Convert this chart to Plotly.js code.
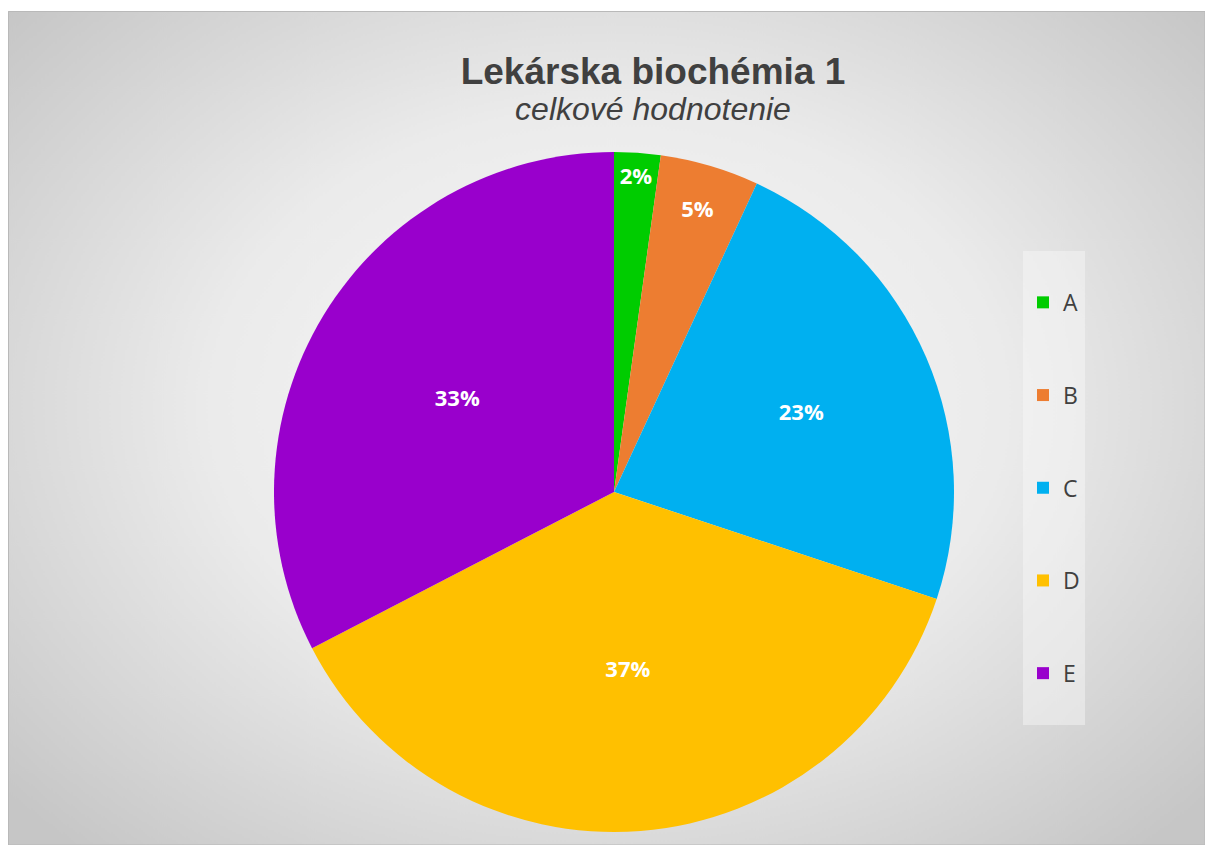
<!DOCTYPE html>
<html>
<head>
<meta charset="utf-8">
<script src="https://cdn.plot.ly/plotly-3.0.1.min.js"></script>
<style>
  html, body { margin: 0; padding: 0; background: #ffffff; }
  #chart { width: 1205px; height: 845px; }
</style>
</head>
<body>
<div id="chart"></div>
<script>
// grades and their share of students
const grades = ['A', 'B', 'C', 'D', 'E'];
const shares = [2.2, 4.7, 23.2, 37.3, 32.6];
const sliceColors = ['#00cc00', '#ed7d31', '#00b0f0', '#ffc000', '#9900cc'];

const W = 1205, H = 845;

// soft grey radial background like the Excel chart style
function makeBackground() {
  const c = document.createElement('canvas');
  c.width = W; c.height = H;
  const g = c.getContext('2d');
  const cx = 605, cy = 400;
  g.save();
  g.translate(cx, cy);
  g.scale(1, 0.75);
  const rad = Math.sqrt(cx * cx + (cy / 0.75) * (cy / 0.75));
  const grad = g.createRadialGradient(0, 0, 0, 0, 0, rad);
  grad.addColorStop(0, '#fafafa');
  grad.addColorStop(0.5, '#ebebeb');
  grad.addColorStop(1, '#c6c6c6');
  g.fillStyle = grad;
  g.fillRect(-cx, -cy / 0.75, W, H / 0.75);
  g.restore();
  return c.toDataURL('image/png');
}

// pad legend labels so entries are spread like the original
const legendLabels = grades.map(function(g) { return ' <br>' + g + '<br> '; });

const trace = {
  type: 'pie',
  labels: legendLabels,
  values: shares,
  sort: false,
  direction: 'clockwise',
  rotation: 0,
  marker: { colors: sliceColors, line: { width: 0 } },
  texttemplate: '%{percent:.0%}',
  textposition: 'inside',
  insidetextorientation: 'horizontal',
  textfont: { family: 'Open Sans', size: 22, color: '#ffffff', weight: 'bold' },
  hovertemplate: '%{percent:.1%}<extra></extra>',
  domain: { x: [274 / W, 954 / W], y: [13 / H, 693 / H] }
};

const layout = {
  width: W,
  height: H,
  margin: { l: 0, r: 0, t: 0, b: 0 },
  paper_bgcolor: '#ffffff',
  uniformtext: { minsize: 22, mode: 'show' },
  title: {
    text: '<span style="font-size:37px"><b>Lekárska biochémia 1</b></span><br>' +
          '<span style="font-size:32px"><i>celkové hodnotenie</i></span>',
    font: { family: 'Liberation Sans, Arial, sans-serif', size: 28, color: '#404040' },
    x: 653 / W,
    xanchor: 'center',
    xref: 'paper',
    y: 1 - 84 / H,
    yref: 'container',
    yanchor: 'top'
  },
  showlegend: true,
  legend: {
    x: 1023 / W,
    xanchor: 'left',
    y: 1 - 488 / H,
    yanchor: 'middle',
    bgcolor: 'rgba(248,248,248,0.45)',
    borderwidth: 0,
    itemwidth: 30,
    font: { family: 'Open Sans', size: 23, color: '#404040' }
  },
  images: [{
    source: makeBackground(),
    xref: 'paper', yref: 'paper',
    x: 8 / W, y: 1 - 11 / H,
    sizex: (W - 8) / W, sizey: (H - 11) / H,
    sizing: 'stretch',
    layer: 'below'
  }],
  shapes: [{
    type: 'rect', xref: 'paper', yref: 'paper',
    x0: 8.5 / W, x1: 1, y0: 0, y1: 1 - 11.5 / H,
    line: { color: '#b9b9b9', width: 1 },
    fillcolor: 'rgba(0,0,0,0)',
    layer: 'below'
  }]
};

Plotly.newPlot('chart', [trace], layout, { displayModeBar: false, staticPlot: true });
</script>
</body>
</html>
